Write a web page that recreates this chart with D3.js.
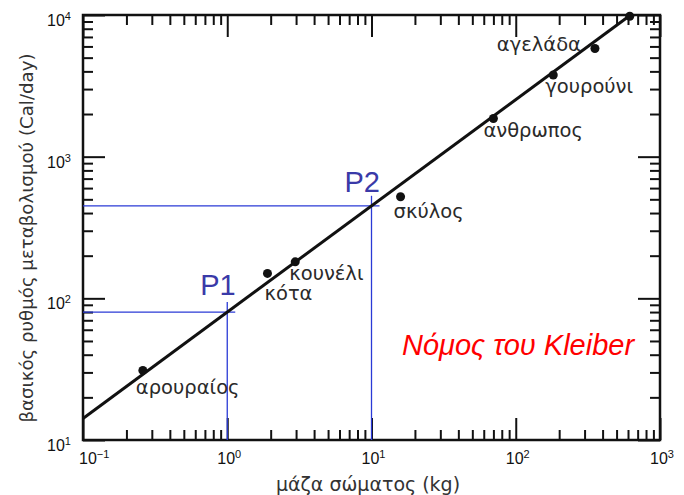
<!DOCTYPE html>
<html>
<head>
<meta charset="utf-8">
<script src="https://cdn.jsdelivr.net/npm/d3@7/dist/d3.min.js"></script>
<style>
  html, body { margin: 0; padding: 0; background: #fff; }
  svg { display: block; }
</style>
</head>
<body>
<svg id="chart" width="684" height="495"></svg>
<script>
// ---------------- DATA ----------------
const animalNames = ["αρουραίος", "κότα", "κουνέλι", "σκύλος", "ανθρωπος", "γουρούνι", "αγελάδα", ""];
const animalMass  = [0.26, 1.9, 2.96, 15.9, 70, 182, 354, 617];      // kg
const animalRate  = [31, 150, 181, 521, 1860, 3770, 5800, 9800];     // Cal/day

// Kleiber law line endpoints
const lawMass = [0.1, 625];
const lawRate = [14.2, 10000];

// Marked points P1, P2
const markNames = ["P1", "P2"];
const markMass  = [1, 10];
const markRate  = [80, 450];

const xMajorTicks = [0.1, 1, 10, 100, 1000];
const xTickExp    = ["−1", "0", "1", "2", "3"];
const yMajorTicks = [10, 100, 1000, 10000];
const yTickExp    = ["1", "2", "3", "4"];

const xTitle = "μάζα σώματος (kg)";
const yTitle = "βασικός ρυθμός μεταβολισμού (Cal/day)";
const lawTitle = "Νόμος του Kleiber";

// ---------------- LAYOUT ----------------
const plot = { left: 83, right: 660, top: 15, bottom: 440 };
const labelOffsets = [[-7, 24], [-3, 27], [-6, 18], [-7, 21], [-10, 19], [-8, 18], [-14, 2], [0, 0]];
const labelAnchors = ["start", "start", "start", "start", "start", "start", "end", "start"];

const svg = d3.select("#chart");

const x = d3.scaleLog().domain([0.1, 1000]).range([plot.left, plot.right]);
const y = d3.scaleLog().domain([10, 10000]).range([plot.bottom, plot.top]);

function minorTicks(domain) {
  const out = [];
  for (let e = Math.round(Math.log10(domain[0])); e < Math.round(Math.log10(domain[1])); e++) {
    for (let k = 2; k <= 9; k++) out.push(k * Math.pow(10, e));
  }
  return out;
}
const xMinor = minorTicks(x.domain());
const yMinor = minorTicks(y.domain());

const MAJ = 22, MIN = 10;
const axisColor = "#111";

function styleAxis(g) {
  g.select(".domain").remove();
  g.selectAll(".tick line").attr("stroke", axisColor).attr("stroke-width", 2);
  g.selectAll(".tick text").remove();
}

// bottom
svg.append("g").attr("transform", `translate(0,${plot.bottom})`)
  .call(d3.axisBottom(x).tickValues(xMajorTicks).tickSize(-MAJ).tickFormat(""))
  .call(styleAxis);
svg.append("g").attr("transform", `translate(0,${plot.bottom})`)
  .call(d3.axisBottom(x).tickValues(xMinor).tickSize(-MIN).tickFormat(""))
  .call(styleAxis);
// top
svg.append("g").attr("transform", `translate(0,${plot.top})`)
  .call(d3.axisTop(x).tickValues(xMajorTicks).tickSize(-MAJ).tickFormat(""))
  .call(styleAxis);
svg.append("g").attr("transform", `translate(0,${plot.top})`)
  .call(d3.axisTop(x).tickValues(xMinor).tickSize(-MIN).tickFormat(""))
  .call(styleAxis);
// left
svg.append("g").attr("transform", `translate(${plot.left},0)`)
  .call(d3.axisLeft(y).tickValues(yMajorTicks).tickSize(-MAJ).tickFormat(""))
  .call(styleAxis);
svg.append("g").attr("transform", `translate(${plot.left},0)`)
  .call(d3.axisLeft(y).tickValues(yMinor).tickSize(-MIN).tickFormat(""))
  .call(styleAxis);
// right
svg.append("g").attr("transform", `translate(${plot.right},0)`)
  .call(d3.axisRight(y).tickValues(yMajorTicks).tickSize(-MAJ).tickFormat(""))
  .call(styleAxis);
svg.append("g").attr("transform", `translate(${plot.right},0)`)
  .call(d3.axisRight(y).tickValues(yMinor).tickSize(-MIN).tickFormat(""))
  .call(styleAxis);

// frame
svg.append("rect")
  .attr("x", plot.left).attr("y", plot.top)
  .attr("width", plot.right - plot.left).attr("height", plot.bottom - plot.top)
  .attr("fill", "none").attr("stroke", axisColor).attr("stroke-width", 2.5);

// tick labels
const tickFont = "'Liberation Sans', Arial, sans-serif";
xMajorTicks.forEach((v, i) => {
  const t = svg.append("text")
    .attr("x", x(v) - 10 + (i === 0 ? 6 : 0))
    .attr("y", plot.bottom + 24)
    .attr("font-family", tickFont).attr("font-size", 16).attr("fill", "#111");
  t.append("tspan").text("10");
  t.append("tspan").attr("dy", -6).attr("font-size", 11).text(xTickExp[i]);
});
yMajorTicks.forEach((v, i) => {
  const t = svg.append("text")
    .attr("x", plot.left - 36)
    .attr("y", y(v) + 11)
    .attr("font-family", tickFont).attr("font-size", 16).attr("fill", "#111");
  t.append("tspan").text("10");
  t.append("tspan").attr("dy", -6).attr("font-size", 11).text(yTickExp[i]);
});

// axis titles
const labFont = "'DejaVu Sans', Verdana, sans-serif";
svg.append("text")
  .attr("x", 368).attr("y", 491)
  .attr("text-anchor", "middle")
  .attr("font-family", labFont).attr("font-size", 19).attr("fill", "#333")
  .text(xTitle);
svg.append("text")
  .attr("transform", `translate(33,238) rotate(-90)`)
  .attr("text-anchor", "middle")
  .attr("font-family", labFont).attr("font-size", 18.2).attr("fill", "#333")
  .text(yTitle);

// blue marker lines
const blue = "#2a3ad6";
markMass.forEach((m, i) => {
  const px = x(m), py = y(markRate[i]);
  svg.append("line")
    .attr("x1", plot.left).attr("x2", px + 8)
    .attr("y1", py).attr("y2", py)
    .attr("stroke", blue).attr("stroke-width", 1.3);
  svg.append("line")
    .attr("x1", px).attr("x2", px)
    .attr("y1", py - 10).attr("y2", plot.bottom)
    .attr("stroke", blue).attr("stroke-width", 1.3);
  svg.append("text")
    .attr("x", px - 27).attr("y", py - 17 + (i === 1 ? 3 : 0))
    .attr("font-family", tickFont).attr("font-size", 29).attr("fill", "#3a3aa8")
    .text(markNames[i]);
});

// Kleiber line
svg.append("path")
  .datum(lawMass.map((m, i) => [m, lawRate[i]]))
  .attr("d", d3.line().x(d => x(d[0])).y(d => y(d[1])))
  .attr("fill", "none").attr("stroke", "#111").attr("stroke-width", 3);

// points
const pts = animalMass.map((m, i) => ({ m, r: animalRate[i], name: animalNames[i], i }));
svg.selectAll("circle.pt")
  .data(pts)
  .join("circle")
  .attr("class", "pt")
  .attr("cx", d => x(d.m)).attr("cy", d => y(d.r))
  .attr("r", 4.5).attr("fill", "#111");

// animal labels
svg.selectAll("text.an")
  .data(pts.filter(d => d.name))
  .join("text")
  .attr("class", "an")
  .attr("x", d => x(d.m) + labelOffsets[d.i][0])
  .attr("y", d => y(d.r) + labelOffsets[d.i][1])
  .attr("text-anchor", d => labelAnchors[d.i])
  .attr("font-family", labFont).attr("font-size", 19.5).attr("fill", "#2a2a2a")
  .text(d => d.name);

// law title
svg.append("text")
  .attr("x", 402).attr("y", 355)
  .attr("font-family", tickFont).attr("font-size", 29)
  .attr("font-style", "italic").attr("fill", "#ff0000")
  .text(lawTitle);
</script>
</body>
</html>
